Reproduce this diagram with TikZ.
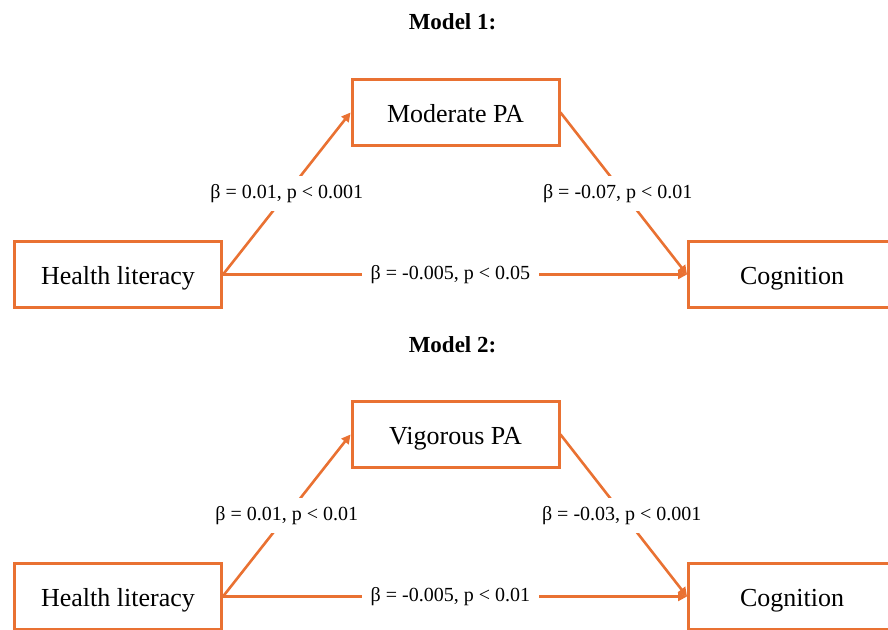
\documentclass[tikz,border=0pt]{standalone}
\usepackage{fontspec}
\setmainfont{Liberation Serif}
\usetikzlibrary{arrows.meta}
\definecolor{orng}{RGB}{233,113,50}
\begin{document}
\begin{tikzpicture}[x=1pt,y=-1pt,
  varbox/.style={draw=orng,line width=3pt,minimum width=207pt,minimum height=66pt,inner sep=0pt,text height=20pt,text depth=0pt,font=\fontsize{26}{30}\selectfont,fill=white},
  conn/.style={draw=orng,line width=2.6pt,-{Triangle[length=9pt,width=9pt]}},
  lbl/.style={fill=white,inner xsep=9pt,inner ysep=8pt,font=\fontsize{20}{24}\selectfont,text=black},
  ttl/.style={font=\bfseries\fontsize{23}{27}\selectfont}]
\useasboundingbox (0,0) rectangle (888,629);
\clip (0,0) rectangle (888,629);
% Model 1
\node[ttl] (t1) at (452.5,22) {Model 1:};
\node[varbox] (hl1) at (118,274.5) {Health literacy};
\node[varbox] (m1) at (455.5,112.5) {Moderate PA};
\node[varbox] (c1) at (792,274.5) {Cognition};
\draw[conn] (hl1.east) -- node[lbl,pos=0.5] {β = 0.01, p < 0.001} (m1.west);
\draw[conn] (m1.east) -- node[lbl,pos=0.5,xshift=-6pt] {β = -0.07, p < 0.01} (c1.west);
\draw[conn] (hl1.east) -- node[lbl,pos=0.49] {β = -0.005, p < 0.05} (c1.west);
% Model 2
\node[ttl] (t2) at (452.5,345) {Model 2:};
\node[varbox] (hl2) at (118,596.5) {Health literacy};
\node[varbox] (m2) at (455.5,434.5) {Vigorous PA};
\node[varbox] (c2) at (792,596.5) {Cognition};
\draw[conn] (hl2.east) -- node[lbl,pos=0.5] {β = 0.01, p < 0.01} (m2.west);
\draw[conn] (m2.east) -- node[lbl,pos=0.5,xshift=-2pt] {β = -0.03, p < 0.001} (c2.west);
\draw[conn] (hl2.east) -- node[lbl,pos=0.49] {β = -0.005, p < 0.01} (c2.west);
\end{tikzpicture}
\end{document}
